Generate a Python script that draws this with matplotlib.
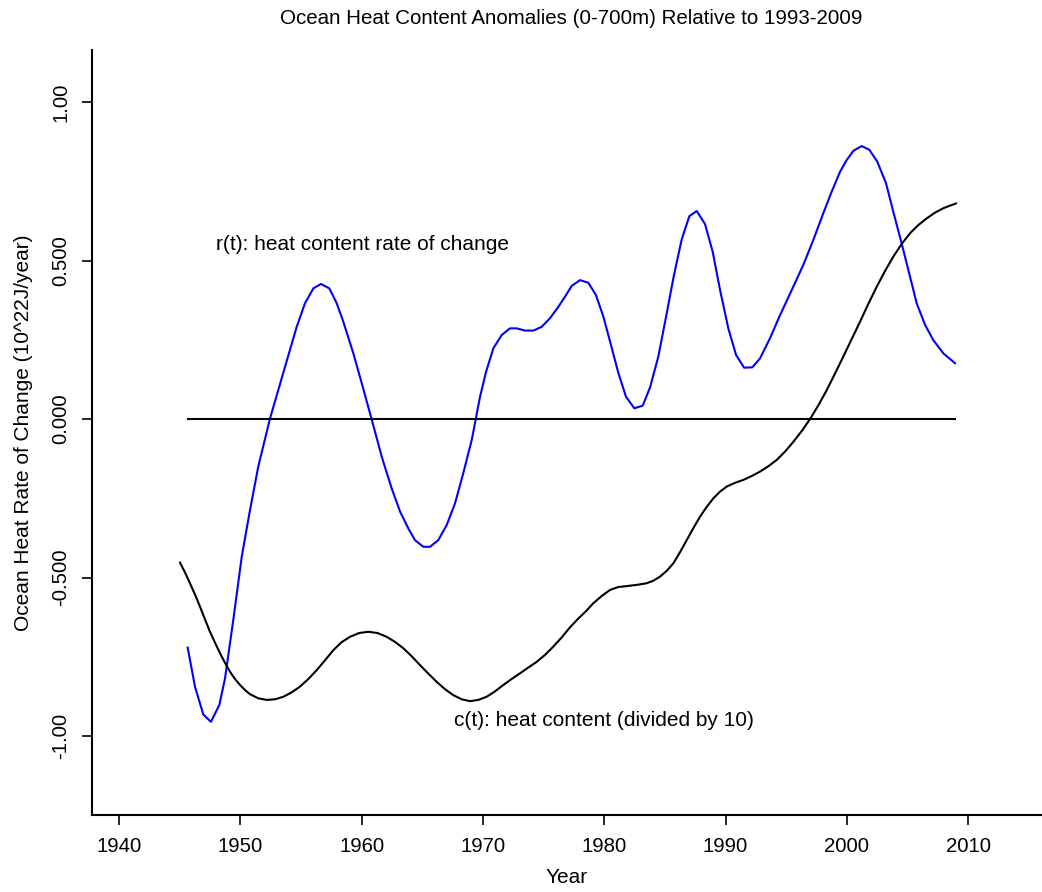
import matplotlib
matplotlib.use("Agg")
import matplotlib.pyplot as plt

plt.rcParams["font.family"] = ["Liberation Sans", "DejaVu Sans"]

# r(t): rate of change of heat content (10^22 J/year)
rate_years = [1945.66, 1946.27, 1946.95, 1947.58, 1948.27, 1948.74, 1949.42, 1950.12,
              1950.80, 1951.48, 1952.45, 1953.69, 1954.65, 1955.33, 1956.02, 1956.65,
              1957.34, 1957.95, 1958.49, 1959.32, 1960.01, 1960.83, 1961.66, 1962.48,
              1963.17, 1963.85, 1964.40, 1965.09, 1965.64, 1966.32, 1967.02, 1967.70,
              1968.38, 1969.08, 1969.76, 1970.26, 1970.86, 1971.55, 1972.23, 1972.79,
              1973.47, 1974.16, 1974.85, 1975.53, 1976.22, 1976.77, 1977.32, 1978.00,
              1978.69, 1979.32, 1979.93, 1980.52, 1981.16, 1981.80, 1982.48, 1983.17,
              1983.78, 1984.46, 1985.10, 1985.75, 1986.39, 1987.02, 1987.63, 1988.31,
              1988.94, 1989.55, 1990.23, 1990.87, 1991.53, 1992.21, 1992.84, 1993.67,
              1994.50, 1995.46, 1996.41, 1997.24, 1998.06, 1998.75, 1999.44, 1999.99,
              2000.54, 2001.23, 2001.86, 2002.51, 2003.23, 2003.83, 2004.52, 2005.21,
              2005.76, 2006.45, 2007.13, 2007.96, 2008.92]
rate_values = [-0.721, -0.845, -0.932, -0.955, -0.902, -0.818, -0.634, -0.434,
               -0.287, -0.150, 0.002, 0.165, 0.291, 0.365, 0.412, 0.426,
               0.412, 0.365, 0.307, 0.207, 0.113, -0.001, -0.119, -0.219,
               -0.292, -0.345, -0.382, -0.403, -0.403, -0.382, -0.334, -0.266,
               -0.171, -0.066, 0.070, 0.149, 0.223, 0.265, 0.286, 0.286,
               0.279, 0.279, 0.291, 0.318, 0.354, 0.386, 0.420, 0.438,
               0.430, 0.391, 0.323, 0.239, 0.146, 0.070, 0.034, 0.042,
               0.100, 0.197, 0.323, 0.454, 0.567, 0.640, 0.656, 0.615,
               0.528, 0.407, 0.286, 0.202, 0.162, 0.163, 0.191, 0.255,
               0.328, 0.407, 0.486, 0.565, 0.649, 0.717, 0.780, 0.817,
               0.846, 0.861, 0.849, 0.812, 0.744, 0.654, 0.554, 0.449,
               0.365, 0.297, 0.249, 0.207, 0.176]

# c(t): heat content divided by 10
content_years = [1945.03, 1945.44, 1945.85, 1946.27, 1946.68, 1947.09, 1947.50, 1947.92,
                 1948.33, 1948.74, 1949.15, 1949.56, 1949.98, 1950.39, 1950.80, 1951.49,
                 1952.18, 1952.87, 1953.55, 1954.24, 1954.92, 1955.61, 1956.30, 1956.98,
                 1957.67, 1958.35, 1959.04, 1959.80, 1960.55, 1961.31, 1962.07, 1962.75,
                 1963.44, 1964.12, 1964.81, 1965.50, 1966.19, 1966.87, 1967.56, 1968.25,
                 1968.94, 1969.62, 1970.31, 1971.00, 1971.68, 1972.37, 1973.06, 1973.74,
                 1974.43, 1975.12, 1975.80, 1976.49, 1977.18, 1977.87, 1978.50, 1979.10,
                 1979.80, 1980.48, 1981.15, 1981.85, 1982.70, 1983.50, 1984.05, 1984.60,
                 1985.15, 1985.70, 1986.25, 1986.80, 1987.35, 1987.90, 1988.45, 1989.00,
                 1989.55, 1990.10, 1990.80, 1991.47, 1992.15, 1992.84, 1993.53, 1994.22,
                 1994.90, 1995.59, 1996.28, 1996.97, 1997.65, 1998.34, 1999.02, 1999.71,
                 2000.40, 2001.09, 2001.77, 2002.46, 2003.15, 2003.83, 2004.52, 2005.21,
                 2005.90, 2006.59, 2007.27, 2007.96, 2008.50, 2009.00]
content_values = [-0.453, -0.484, -0.518, -0.554, -0.592, -0.632, -0.671, -0.706,
                  -0.739, -0.769, -0.797, -0.820, -0.839, -0.855, -0.868, -0.881,
                  -0.886, -0.884, -0.876, -0.862, -0.844, -0.820, -0.792, -0.761,
                  -0.729, -0.704, -0.687, -0.675, -0.671, -0.675, -0.687, -0.703,
                  -0.723, -0.748, -0.776, -0.803, -0.829, -0.852, -0.871, -0.884,
                  -0.890, -0.886, -0.876, -0.859, -0.839, -0.820, -0.802, -0.784,
                  -0.766, -0.744, -0.718, -0.689, -0.657, -0.629, -0.606, -0.581,
                  -0.558, -0.539, -0.530, -0.527, -0.523, -0.518, -0.510, -0.497,
                  -0.479, -0.455, -0.420, -0.382, -0.344, -0.308, -0.277, -0.250,
                  -0.229, -0.213, -0.201, -0.192, -0.180, -0.166, -0.149, -0.129,
                  -0.103, -0.072, -0.038, 0.000, 0.043, 0.091, 0.143, 0.197,
                  0.252, 0.307, 0.363, 0.417, 0.467, 0.512, 0.552, 0.586,
                  0.612, 0.633, 0.651, 0.665, 0.673, 0.680]

zero_span = [1945.66, 2008.92]
x_ticks = [1940, 1950, 1960, 1970, 1980, 1990, 2000, 2010]
y_ticks = [1.0, 0.5, 0.0, -0.5, -1.0]
y_tick_labels = ["1.00", "0.500", "0.000", "-0.500", "-1.00"]

fig = plt.figure(figsize=(10.42, 8.92), dpi=100)
ax = fig.add_axes([92 / 1042, 77 / 892, 950 / 1042, 765 / 892])

ax.plot(rate_years, rate_values, color="#0000ff", lw=1.5)
ax.plot(content_years, content_values, color="black", lw=1.5)
ax.plot(zero_span, [0, 0], color="black", lw=1.5)

ax.text(1960.07, 0.549, "r(t): heat content rate of change", ha="center", va="center", fontsize=15)
ax.text(1979.98, -0.950, "c(t): heat content (divided by 10)", ha="center", va="center", fontsize=15)

ax.set_xlim(1937.774, 2016.09)
ax.set_ylim(-1.249, 1.164)

#  L-shaped frame, outward ticks
for side in ["top", "right"]:
    ax.spines[side].set_visible(False)
for side in ["left", "bottom"]:
    ax.spines[side].set_linewidth(1.5)

ax.set_xticks(x_ticks)
ax.set_xticklabels([str(t) for t in x_ticks])
ax.set_yticks(y_ticks)
ax.set_yticklabels(y_tick_labels, rotation=90, va="center")
ax.tick_params(direction="out", length=7.5, width=1.2, labelsize=14.7, pad=8)

ax.set_xlabel("Year", fontsize=15, labelpad=9)
ax.set_ylabel("Ocean Heat Rate of Change (10^22J/year)", fontsize=15, labelpad=13)
fig.text(0.548, 0.979, "Ocean Heat Content Anomalies (0-700m) Relative to 1993-2009",
         ha="center", va="center", fontsize=14.8)

fig.savefig("out.png", dpi=100)
